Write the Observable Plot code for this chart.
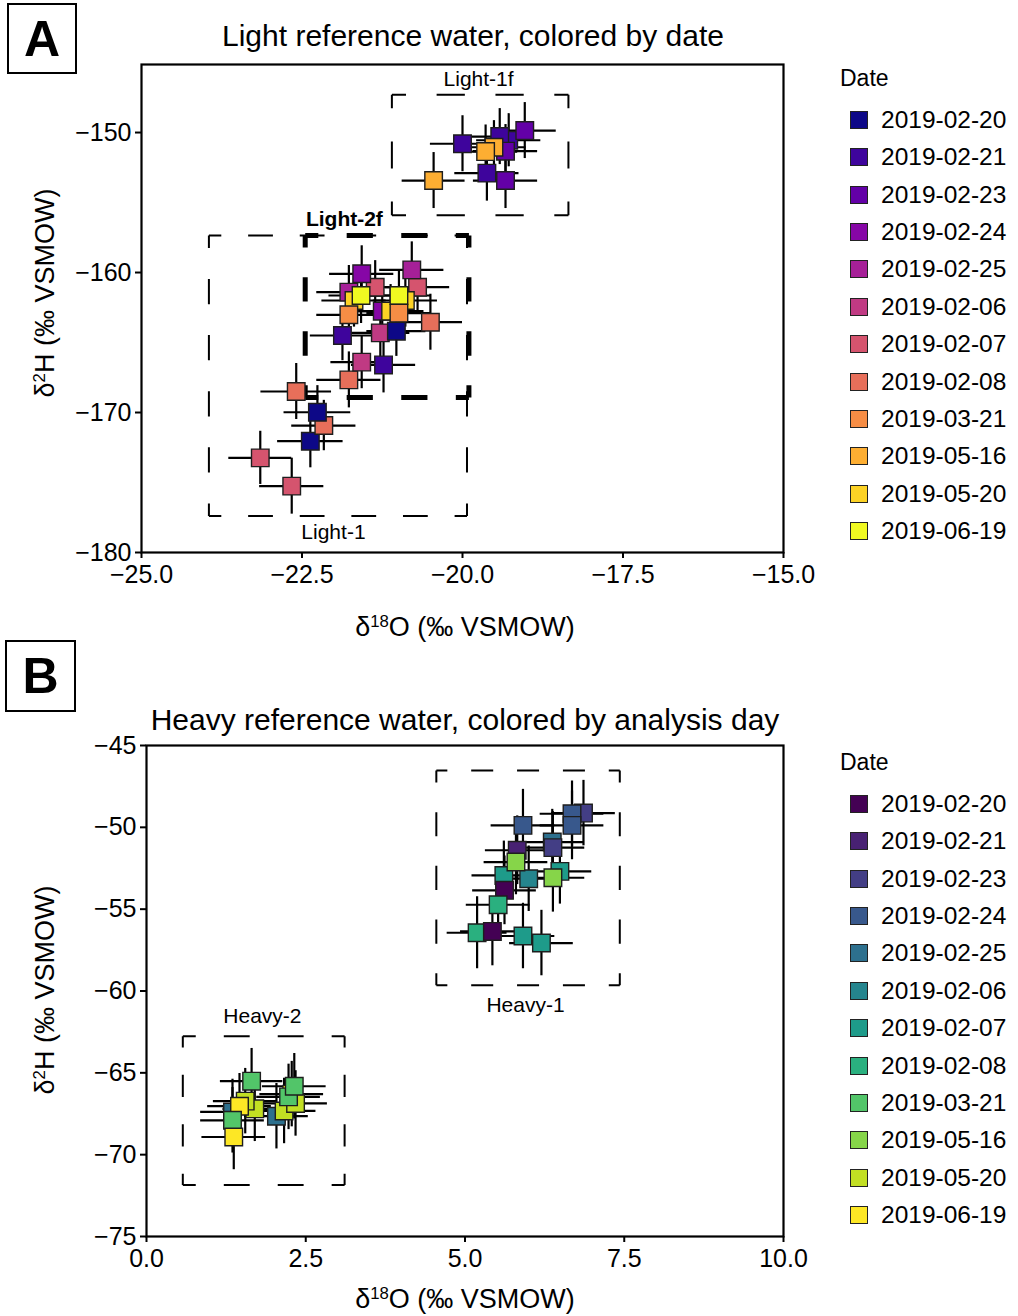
<!DOCTYPE html>
<html><head><meta charset="utf-8">
<script src="https://cdn.jsdelivr.net/npm/d3@7"></script>
<script src="https://cdn.jsdelivr.net/npm/@observablehq/plot@0.6"></script>
<style>
body{margin:0;background:#fff;font-family:"Liberation Sans",Arial,Helvetica,sans-serif;color:#000;}
#root{position:relative;width:1018px;height:1316px;overflow:hidden;background:#fff;}
.abs{position:absolute;}
.plabel{border:2px solid #000;font-weight:bold;font-size:50px;display:flex;align-items:center;justify-content:center;box-sizing:border-box;}
.title{font-size:30px;white-space:nowrap;transform:translate(-50%,-50%);}
.axt{font-size:27px;white-space:nowrap;transform:translate(-50%,-50%);}
.axty{font-size:27px;white-space:nowrap;transform:translate(-50%,-50%) rotate(-90deg);}
.sup{font-size:0.62em;position:relative;top:-0.55em;}
.legtitle{font-size:23px;transform:translateY(-50%);white-space:nowrap;}
.legsw{width:18px;height:18px;box-sizing:border-box;border:1.5px solid #222;}
.leglab{font-size:24.5px;transform:translateY(-50%);white-space:nowrap;}
</style>
</head><body><div id="root"></div>
<script>
// ---------- data ----------
const dates = ["2019-02-20","2019-02-21","2019-02-23","2019-02-24","2019-02-25","2019-02-06","2019-02-07","2019-02-08","2019-03-21","2019-05-16","2019-05-20","2019-06-19"];

// Panel A: light reference water (δ18O, δ2H, errors, date index)
const aX    = [-23.15,-22.66,-22.37,-22.16,-22.26,-22.59,-21.77,-21.23,-21.57,-21.87,-21.28,-21.03,-20.50,
               -21.77,-21.36,-20.70,-21.57,-20.79,-21.25,-21.69,-20.89,-21.12,-21.58,-20.99,-21.77,-20.99,
               -19.28,-19.42,-20.00,-19.62,-19.03,-19.33,-19.33,-19.51,-19.64,-20.45];
const aY    = [-173.24,-175.26,-172.05,-170.93,-169.98,-168.50,-167.67,-166.60,-166.40,-164.50,-164.31,-164.19,-163.55,
               -161.40,-161.05,-161.05,-160.09,-159.81,-162.76,-162.00,-162.00,-162.76,-161.64,-161.64,-163.02,-162.90,
               -150.55,-150.29,-150.80,-152.90,-149.86,-151.33,-153.43,-151.05,-151.36,-153.43];
const aXerr = [0.49,0.50,0.51,0.50,0.52,0.55,0.50,0.50,0.48,0.50,0.46,0.46,0.50,
               0.50,0.50,0.50,0.50,0.50,0.50,0.50,0.50,0.52,0.50,0.50,0.50,0.50,
               0.50,0.52,0.50,0.50,0.49,0.50,0.50,0.50,0.50,0.49];
const aYerr = [1.9,2.0,1.9,1.8,1.9,2.0,2.0,2.0,1.9,1.8,2.0,1.8,2.0,
               1.9,1.9,1.8,2.0,2.0,1.8,1.9,1.9,1.9,2.0,1.8,1.9,1.9,
               1.9,2.0,2.0,2.0,2.0,1.9,2.0,1.9,1.9,2.0];
const aDay  = [6,6,0,7,0,7,7,1,5,1,5,0,7,
               4,6,6,3,4,3,10,10,10,11,11,8,8,
               1,1,1,1,2,2,2,9,9,9];

// Panel B: heavy reference water
const bX    = [5.91,6.86,6.68,6.68,6.37,6.38,5.82,6.49,5.61,6.00,5.80,6.38,5.62,5.52,5.19,5.43,5.91,6.20,
               1.35,2.04,2.28,1.70,1.55,1.65,1.46,1.35,1.37,2.16,2.34,2.23,2.32];
const bY    = [-49.88,-49.13,-49.17,-49.88,-50.90,-51.24,-51.40,-52.69,-52.94,-53.14,-52.12,-53.08,-53.85,-54.73,-56.44,-56.36,-56.64,-57.07,
               -67.39,-67.65,-66.30,-67.20,-66.73,-65.51,-67.04,-67.90,-68.92,-67.33,-66.87,-66.47,-65.82];
const bXerr = [0.50,0.50,0.50,0.50,0.50,0.50,0.50,0.50,0.50,0.50,0.50,0.50,0.50,0.50,0.47,0.50,0.50,0.50,
               0.50,0.50,0.50,0.50,0.50,0.49,0.50,0.50,0.50,0.50,0.50,0.50,0.50];
const bYerr = [2.2,2.0,2.0,2.1,2.0,2.2,2.1,2.0,2.1,2.0,2.0,2.1,2.1,2.0,2.2,2.1,2.0,2.0,
               2.0,2.0,2.0,2.0,2.0,2.0,2.0,2.0,2.0,2.0,2.0,2.0,2.0];
const bDay  = [3,2,3,3,4,2,1,6,6,5,9,9,0,7,7,0,6,6,
               4,4,11,10,10,8,11,8,11,10,10,8,8];

// Reference-water regions (data units) and their labels
const boxNamesA = ["Light-1f","Light-1","Light-2f"];
const boxX0A = [-21.10,-23.95,-22.45], boxX1A = [-18.35,-19.93,-19.90];
const boxY0A = [-155.90,-177.40,-168.93], boxY1A = [-147.30,-157.35,-157.35];
const boxLabXA = [-19.75,-22.01,-21.84], boxLabYA = [-146.21,-178.57,-156.21];

const boxNamesB = ["Heavy-1","Heavy-2"];
const boxX0B = [4.55,0.57], boxX1B = [7.43,3.11];
const boxY0B = [-59.65,-71.85], boxY1B = [-46.53,-62.77];
const boxLabXB = [5.95,1.82], boxLabYB = [-60.88,-61.55];

// Axis ticks
const xTicksA = [-25,-22.5,-20,-17.5,-15], yTicksA = [-180,-170,-160,-150];
const xTicksB = [0,2.5,5,7.5,10], yTicksB = [-75,-70,-65,-60,-55,-50,-45];

// ---------- styles ----------
const colorsA = d3.quantize(d3.interpolatePlasma, 12);
const colorsB = d3.quantize(d3.interpolateViridis, 12);
const boxStyleA = [{nh:3,nv:2,w:2},{nh:5,nv:5,w:2},{nh:3,nv:3,w:5,bold:true}];
const boxStyleB = [{nh:4,nv:4,w:2},{nh:3,nv:3,w:2}];
const FONT = '"Liberation Sans",Arial,Helvetica,sans-serif';

const root = document.getElementById("root");
function el(cls, html, css){const d=document.createElement("div");d.className="abs "+cls;d.innerHTML=html;Object.assign(d.style,css);root.appendChild(d);return d;}

function makePanel(o){
  const pts = o.X.map((x,i)=>({x, y:o.Y[i], xe:o.Xe[i], ye:o.Ye[i], date:dates[o.D[i]]}));
  const boxes = o.names.map((n,i)=>({name:n,x0:o.bx0[i],x1:o.bx1[i],y0:o.by0[i],y1:o.by1[i],lx:o.lx[i],ly:o.ly[i],st:o.bst[i]}));
  const xs = d3.scaleLinear(o.xdom,[o.ml,o.W-o.mr]);
  const ys = d3.scaleLinear(o.ydom,[o.H-o.mb,o.mt]);
  const boxMarks = [];
  for(const b of boxes){
    const Lh = Math.abs(xs(b.x1)-xs(b.x0)), ph = Lh/b.st.nh, dh = ph*0.48;
    const Lv = Math.abs(ys(b.y1)-ys(b.y0)), pv = Lv/b.st.nv, dv = pv*0.45;
    boxMarks.push(Plot.link([{x1:b.x0,y1:b.y1,x2:b.x1,y2:b.y1},{x1:b.x0,y1:b.y0,x2:b.x1,y2:b.y0}],
      {x1:"x1",y1:"y1",x2:"x2",y2:"y2",stroke:"black",strokeWidth:b.st.w,strokeDasharray:`${dh},${ph-dh}`,strokeDashoffset:dh/2}));
    boxMarks.push(Plot.link([{x1:b.x0,y1:b.y1,x2:b.x0,y2:b.y0},{x1:b.x1,y1:b.y1,x2:b.x1,y2:b.y0}],
      {x1:"x1",y1:"y1",x2:"x2",y2:"y2",stroke:"black",strokeWidth:b.st.w,strokeDasharray:`${dv},${pv-dv}`,strokeDashoffset:dv/2}));
  }
  const chart = Plot.plot({
    width:o.W, height:o.H, marginLeft:o.ml, marginRight:o.mr, marginTop:o.mt, marginBottom:o.mb,
    style:{fontFamily:FONT, fontSize:"25px", color:"black", background:"transparent", overflow:"visible"},
    x:{domain:o.xdom}, y:{domain:o.ydom},
    color:{type:"ordinal", domain:dates, range:o.colors},
    marks:[
      ...boxMarks,
      Plot.text(boxes.filter(b=>!b.st.bold),{x:"lx",y:"ly",text:"name",fontSize:21,fill:"black"}),
      Plot.text(boxes.filter(b=>b.st.bold),{x:"lx",y:"ly",text:"name",fontSize:21,fontWeight:"bold",fill:"black"}),
      Plot.ruleY(pts,{y:"y",x1:d=>d.x-d.xe,x2:d=>d.x+d.xe,stroke:"black",strokeWidth:2.2}),
      Plot.ruleX(pts,{x:"x",y1:d=>d.y-d.ye,y2:d=>d.y+d.ye,stroke:"black",strokeWidth:2.2}),
      Plot.dot(pts,{x:"x",y:"y",symbol:"square",r:9.9,fill:"date",fillOpacity:1,stroke:"#1e1e1e",strokeWidth:1.4}),
      Plot.frame({stroke:"black",strokeWidth:2.2}),
      Plot.axisX({ticks:o.xt,tickFormat:d3.format(".1f"),tickSize:6,tickPadding:7,strokeWidth:2,label:null,fontSize:25}),
      Plot.axisY({ticks:o.yt,tickFormat:d3.format("d"),tickSize:6,tickPadding:4,strokeWidth:2,label:null,fontSize:25})
    ]
  });
  chart.style.position="absolute"; chart.style.left="0px"; chart.style.top=o.top+"px";
  root.appendChild(chart);
  // legend
  el("legtitle","Date",{left:"840px",top:o.legTop-42+"px"});
  dates.forEach((d,i)=>{
    const cy = o.legTop + i*37.36;
    el("legsw","",{left:"850px",top:(cy-9)+"px",background:o.colors[i]});
    el("leglab",d,{left:"881px",top:cy+"px"});
  });
}

makePanel({X:aX,Y:aY,Xe:aXerr,Ye:aYerr,D:aDay,names:boxNamesA,bx0:boxX0A,bx1:boxX1A,by0:boxY0A,by1:boxY1A,lx:boxLabXA,ly:boxLabYA,bst:boxStyleA,
  xdom:[-25,-15], ydom:[-180,-145.14], xt:xTicksA, yt:yTicksA, W:1018, H:650, ml:141, mr:235, mt:64, mb:98, top:0, colors:colorsA, legTop:120});
makePanel({X:bX,Y:bY,Xe:bXerr,Ye:bYerr,D:bDay,names:boxNamesB,bx0:boxX0B,bx1:boxX1B,by0:boxY0B,by1:boxY1B,lx:boxLabXB,ly:boxLabYB,bst:boxStyleB,
  xdom:[0,10], ydom:[-75,-45], xt:xTicksB, yt:yTicksB, W:1018, H:666, ml:146, mr:235, mt:95, mb:80, top:650, colors:colorsB, legTop:804});

// titles, panel letters, axis titles
el("plabel","A",{left:"7px",top:"3px",width:"70px",height:"71px"});
el("plabel","B",{left:"5px",top:"640px",width:"71px",height:"72px"});
el("title","Light reference water, colored by date",{left:"473px",top:"36px"});
el("title","Heavy reference water, colored by analysis day",{left:"465px",top:"720px"});
const xl = 'δ<span class="sup">18</span>O (‰ VSMOW)', yl = 'δ<span class="sup">2</span>H (‰ VSMOW)';
el("axt",xl,{left:"465px",top:"627px"});
el("axt",xl,{left:"465px",top:"1299px"});
el("axty",yl,{left:"45px",top:"293px"});
el("axty",yl,{left:"45px",top:"990px"});
</script>
</body></html>
